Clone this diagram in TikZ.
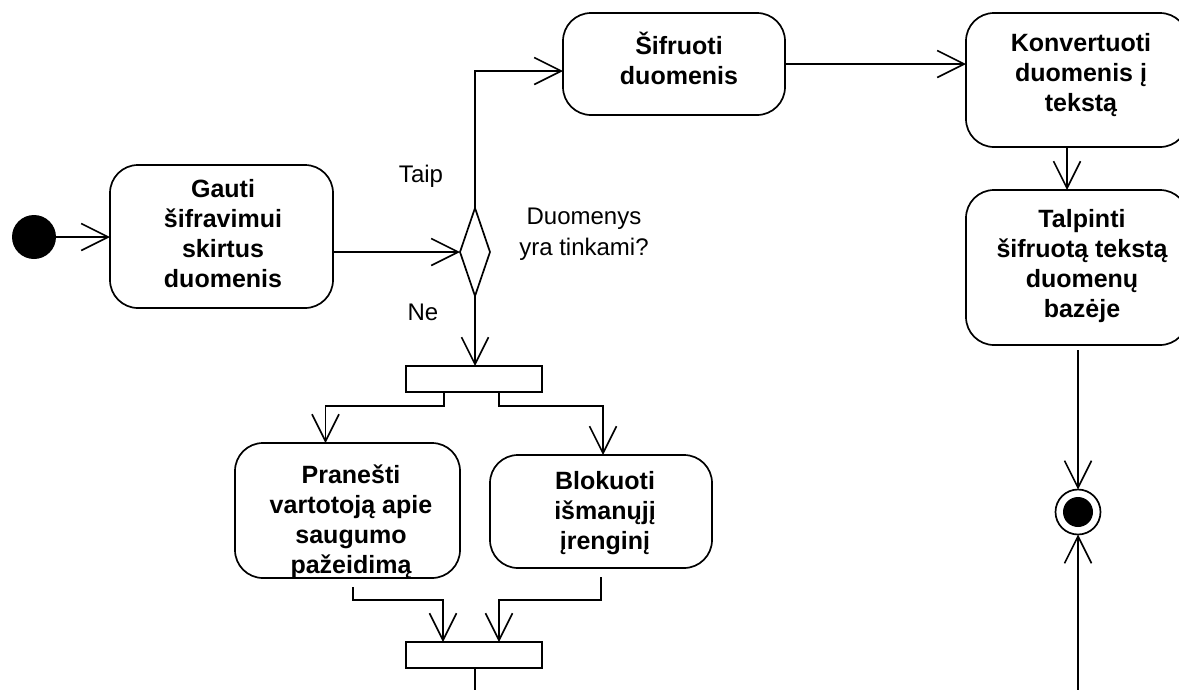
\documentclass[tikz,border=0pt]{standalone}
\usepackage{fontspec}
\setmainfont{Liberation Sans}
\usetikzlibrary{arrows.meta,shapes.geometric,calc}

\begin{document}
\begin{tikzpicture}[x=1pt,y=-1pt,
  every node/.style={inner sep=0pt, outer sep=0pt},
  act/.style 2 args={draw, line width=1.7pt, rounded corners=28pt,
    minimum width=#1, minimum height=#2},
  txt/.style={align=center, font=\fontsize{25}{30}\selectfont\bfseries},
  lbl/.style={align=center, font=\fontsize{24}{31}\selectfont},
  bar/.style={draw, fill=white, line width=1.7pt, minimum width=136pt, minimum height=26pt},
  decision/.style={draw, diamond, line width=1.7pt, minimum width=30pt, minimum height=88pt},
  initial/.style={circle, fill=black, minimum size=44pt},
  final/.style={circle, draw, line width=1.7pt, minimum size=45pt,
    path picture={\fill[black] (path picture bounding box.center) circle (15pt);}},
  arr/.style={line width=1.6pt, -{Straight Barb[length=27pt, width=27pt, line width=1.6pt]}},
  flow/.style={line width=1.6pt}
]
\fill[white] (0,0) rectangle (1179,689);
\useasboundingbox (0,0) rectangle (1179,689);

% start and first action
\node[initial] (start) at (34,237) {};
\node[act={223pt}{143pt}] (gauti) at (221.5,236.5) {};
\node[txt] (gautiT) at (223,234) {Gauti\\šifravimui\\skirtus\\duomenis};

% decision
\node[decision] (dec) at (475,252) {};
\node[lbl] (taip) at (421,176) {Taip};
\node[lbl] (ne) at (423,312) {Ne};
\node[lbl] (cond) at (584,234) {Duomenys\\yra tinkami?};

% upper branch
\node[act={222pt}{102pt}] (sif) at (674,64) {};
\node[txt] (sifT) at (679,58) {Šifruoti\\duomenis};
\node[act={222pt}{134pt}] (konv) at (1077,80) {};
\node[txt] (konvT) at (1081,75) {Konvertuoti\\duomenis į\\tekstą};
\node[act={222pt}{155pt}] (talp) at (1077,267.5) {};
\node[txt] (talpT) at (1082,266) {Talpinti\\šifruotą tekstą\\duomenų\\bazėje};
\node[final] (fin) at (1078,512) {};
\coordinate (finIn) at (1078,700);

% lower branch
\node[bar] (fork) at (474,379) {};
\node[act={225pt}{135pt}] (pran) at (347.5,510.5) {};
\node[txt] (pranT) at (351,522) {Pranešti\\vartotoją apie\\saugumo\\pažeidimą};
\node[act={222pt}{113pt}] (blok) at (601,511.5) {};
\node[txt] (blokT) at (605,513) {Blokuoti\\išmanųjį\\įrenginį};
\node[bar] (join) at (474,655) {};
\coordinate (joinOut) at (475,700);

% connectors
\draw[arr] (start.east) -- (start.east -| gauti.west);
\draw[arr] (dec.west -| gauti.east) -- (dec.west);
\draw[arr] (dec.north) |- ($(sif.west)+(0,7)$);
\draw[arr] (sif.east) -- (sif.east -| konv.west);
\draw[arr] ($(konv.south)+(-10,0)$) -- ($(talp.north)+(-10,0)$);
\draw[arr, shorten <=5pt] ($(talp.south)+(1,0)$) -- (fin.north);
\draw[arr] (finIn) -- (fin.south);

\draw[arr] (dec.south) -- (dec.south |- fork.north);
\draw[arr] ($(fork.south)+(-30,0)$) -- ++(0,14) -| ($(pran.north)+(-22,0)$);
\draw[arr] ($(fork.south)+(25,0)$) -- ++(0,14) -| ($(blok.north)+(2,0)$);

\draw[arr, shorten <=9pt] ($(pran.south)+(5.5,0)$) -- ++(0,22) -| ($(join.north)+(-31,0)$);
\draw[arr, shorten <=9pt] (blok.south) -- ++(0,32) -| ($(join.north)+(25,0)$);
\draw[flow] (join.south -| joinOut) -- (joinOut);
\end{tikzpicture}
\end{document}
